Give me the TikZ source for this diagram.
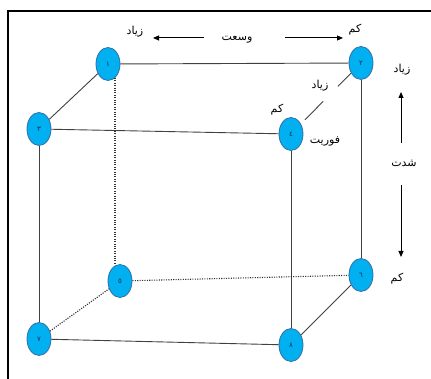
\documentclass[tikz,border=0pt]{standalone}
\usepackage{fontspec}
\newfontfamily\arabicfont[Script=Arabic]{DejaVu Sans}
\usetikzlibrary{shapes.geometric,arrows.meta,calc}
\TeXXeTstate=1
\definecolor{nodefill}{RGB}{0,176,240}
\definecolor{nodeedge}{RGB}{50,110,165}
\definecolor{digit}{RGB}{20,40,80}
\begin{document}
\begin{tikzpicture}[x=1pt,y=-1pt,
  vert/.style={ellipse,draw=nodeedge,fill=nodefill,line width=0.8pt,minimum width=24pt,minimum height=33pt,inner sep=0pt,text=digit,font=\arabicfont\fontsize{7}{7}\selectfont},
  edge/.style={draw=black!75,line width=0.9pt},
  hid/.style={draw=black!80,line width=1.1pt,dash pattern=on 1.1pt off 1.3pt},
  lbl/.style={font=\arabicfont\fontsize{11}{12}\selectfont,inner sep=0pt},
  arr/.style={line width=1pt,-{Triangle[length=6pt,width=5pt]}}]
\useasboundingbox (0,0) rectangle (431,379);
\draw[line width=1.6pt] (8,11) rectangle (445,395);
% nodes
\node[vert] (n1) at (108,64) {١};
\node[vert] (n2) at (361,63) {٢};
\node[vert] (n3) at (39,129) {٣};
\node[vert] (n4) at (291,134) {٤};
\node[vert] (n5) at (120,281) {٥};
\node[vert] (n6) at (361,275) {٦};
\node[vert] (n7) at (39,339) {٧};
\node[vert] (n8) at (291,345) {٨};
% visible edges
\draw[edge] (n1) -- (n2);
\draw[edge] (n1) -- (n3);
\draw[edge] (n3) -- (n4);
\draw[edge] (n3) -- (n7);
\draw[edge] (n4) -- (n8);
\draw[edge] (n2) -- (n6);
\draw[edge] (n7) -- (n8);
\draw[edge] (n8) -- (n6);
\draw[edge] (n2) -- ($(n2)!0.33!(n4)$);
\draw[edge] ($(n2)!0.54!(n4)$) -- ($(n2)!0.8!(n4)$);
% hidden edges
\draw[hid] ($(n1)+(7,14)$) -- ($(n5)+(-5,-16)$);
\draw[hid] (n5) -- (n6);
\draw[hid] (n7) -- (n5);
% labels
\node[lbl] (t1) at (135,32) {\beginR زیاد\endR};
\node[lbl] (t2) at (237,40) {\beginR وسعت\endR};
\node[lbl] (t3) at (355,30) {\beginR کم\endR};
\node[lbl] (t4) at (402,70) {\beginR زیاد\endR};
\node[lbl] (t5) at (404,163) {\beginR شدت\endR};
\node[lbl] (t6) at (397,279) {\beginR کم\endR};
\node[lbl] (t7) at (325,141) {\beginR فوریت\endR};
\node[lbl] (t8) at (277,110) {\beginR کم\endR};
\node[lbl] (t9) at (320,86) {\beginR زیاد\endR};
% arrows
\coordinate (a1s) at (204,38); \coordinate (a1e) at (153,38);
\coordinate (a2s) at (285,38); \coordinate (a2e) at (343,38);
\coordinate (a3s) at (401,143); \coordinate (a3e) at (401,92);
\coordinate (a4s) at (401,185); \coordinate (a4e) at (401,257);
\draw[arr] (a1s) -- (a1e);
\draw[arr] (a2s) -- (a2e);
\draw[arr] (a3s) -- (a3e);
\draw[arr] (a4s) -- (a4e);
\end{tikzpicture}
\end{document}
